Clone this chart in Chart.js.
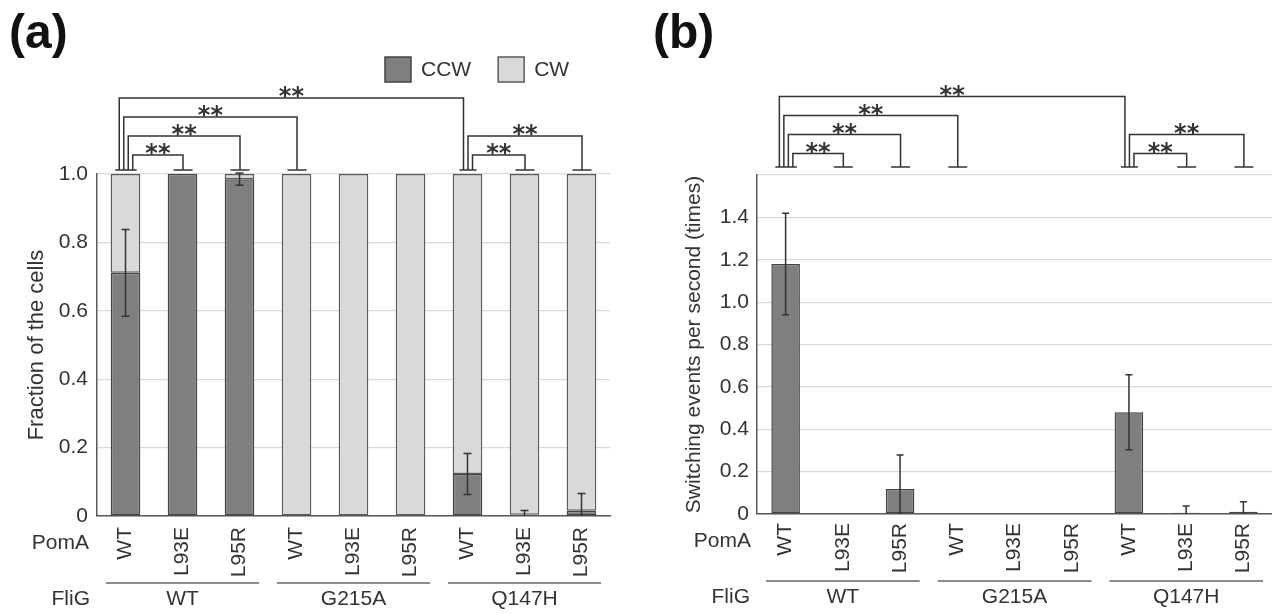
<!DOCTYPE html>
<html>
<head>
<meta charset="utf-8">
<script src="https://cdn.jsdelivr.net/npm/chart.js@4.4.1/dist/chart.umd.min.js"></script>
<style>
html, body { margin: 0; padding: 0; background: #fff; }
#wrap { position: relative; width: 1272px; height: 614px; overflow: hidden; }
.panel { position: absolute; top: 0; }
.tag { position: absolute; font: bold 48px 'Liberation Sans', Arial, sans-serif; line-height: 48px; color: #111; }
</style>
</head>
<body>
<div id="wrap">
	<canvas id="chartA" class="panel" width="636" height="614" style="left:0"></canvas>
	<canvas id="chartB" class="panel" width="632" height="614" style="left:640px"></canvas>
	<div class="tag" style="left:9px;top:8px">(a)</div>
	<div class="tag" style="left:653px;top:8px">(b)</div>
</div>
<script>
//Dati.
const pomaLabels = ["WT", "L93E", "L95R", "WT", "L93E", "L95R", "WT", "L93E", "L95R"];
const fligGroups = ["WT", "G215A", "Q147H"];

const ccwFraction = [0.711, 1.0, 0.985, 0, 0, 0, 0.123, 0.004, 0.015];
const cwFraction  = [0.289, 0, 0.015, 1, 1, 1, 0.877, 0.996, 0.985];
const ccwSd       = [0.127, 0, 0.018, 0, 0, 0, 0.06, 0.012, 0.051];

const switchRate  = [1.18, 0, 0.118, 0, 0, 0, 0.48, 0.006, 0.011];
const switchSd    = [0.24, 0, 0.16, 0, 0, 0, 0.177, 0.032, 0.047];

//Confronti significativi (indici delle barre).
const sigPairs = [[0, 1], [0, 2], [0, 3], [0, 6], [6, 7], [6, 8]];
const sigMark = "**";

const INK = "#333";
const DARK = "#7f7f7f";
const LIGHT = "#d9d9d9";

Chart.defaults.font.family = "'Liberation Sans', Arial, sans-serif";
Chart.defaults.color = INK;

//Plugin: barre d'errore, parentesi di significativita', etichette FliG/PomA, legenda.
const figureDecor = {
	id: "figureDecor",

	afterDatasetsDraw(chart, args, o){
		const ctx = chart.ctx;
		const y = chart.scales.y;
		ctx.save();
		ctx.strokeStyle = INK;
		ctx.lineWidth = 1.5;
		chart.data.datasets.forEach((ds, d) => {
			if(!ds.errors) return;
			const meta = chart.getDatasetMeta(d);
			ds.errors.forEach((e, i) => {
				if(!e) return;
				const v = ds.data[i];
				const x = meta.data[i].x;
				const yt = y.getPixelForValue(v + e);
				const yb = y.getPixelForValue(Math.max(0, v - e));
				ctx.beginPath();
				ctx.moveTo(x, yt); ctx.lineTo(x, yb);
				ctx.moveTo(x - o.errCap, yt); ctx.lineTo(x + o.errCap, yt);
				if(v - e > 0){ ctx.moveTo(x - o.errCap, yb); ctx.lineTo(x + o.errCap, yb); }
				ctx.stroke();
			});
		});
		ctx.restore();
	},

	afterDraw(chart, args, o){
		const ctx = chart.ctx;
		const xs = chart.scales.x;
		const area = chart.chartArea;
		const half = (xs.getPixelForValue(1) - xs.getPixelForValue(0)) / 2;

		ctx.save();
		ctx.strokeStyle = INK;
		ctx.fillStyle = INK;
		ctx.lineWidth = 1.5;

		//Parentesi.
		const capY = area.top - o.capGap;
		const level = sigPairs.map(p => sigPairs.filter(q => q[0] == p[0] && q[1] < p[1]).length);
		const legs = {};
		pomaLabels.forEach((l, i) => {
			const list = [];
			sigPairs.map((p, k) => k).filter(k => sigPairs[k][0] == i)
				.sort((a, b) => level[a] - level[b]).forEach(k => list.push("s" + k));
			sigPairs.forEach((p, k) => { if(p[1] == i) list.push("e" + k); });
			if(list.length) legs[i] = list;
		});
		const legX = (bar, key) => {
			const list = legs[bar];
			const pos = list.indexOf(key);
			return xs.getPixelForValue(bar) + 0.5 + ((list.length - 1) / 2 - pos) * 4.5;
		};

		ctx.font = "bold 24px 'DejaVu Sans'";
		ctx.textAlign = "center";
		ctx.textBaseline = "alphabetic";
		sigPairs.forEach((p, k) => {
			const xl = legX(p[0], "s" + k);
			const xr = legX(p[1], "e" + k);
			const yl = capY - o.firstGap - level[k] * o.step;
			ctx.beginPath();
			ctx.moveTo(xl, capY); ctx.lineTo(xl, yl); ctx.lineTo(xr, yl); ctx.lineTo(xr, capY);
			ctx.stroke();
			ctx.fillText(sigMark, (xl + xr) / 2, yl + 6);
		});
		Object.keys(legs).forEach(bar => {
			const xsLeg = legs[bar].map(key => legX(+bar, key));
			const lo = Math.min(...xsLeg), hi = Math.max(...xsLeg);
			ctx.beginPath();
			if(xsLeg.length == 1){ ctx.moveTo(lo - 9.5, capY); ctx.lineTo(lo + 9.5, capY); }
			else { ctx.moveTo(lo - 4, capY); ctx.lineTo(hi + 4, capY); }
			ctx.stroke();
		});

		//PomA / FliG.
		ctx.font = "21px 'Liberation Sans'";
		ctx.textBaseline = "middle";
		ctx.textAlign = "right";
		ctx.fillText("PomA", area.left - o.pomaX, area.bottom + o.pomaY);
		ctx.fillText("FliG", area.left - 7, area.bottom + 83);

		ctx.textAlign = "center";
		ctx.strokeStyle = "#666";
		fligGroups.forEach((g, k) => {
			const x0 = xs.getPixelForValue(3 * k) - half + 9;
			const x1 = xs.getPixelForValue(3 * k + 2) + half - 9;
			ctx.beginPath();
			ctx.moveTo(x0, area.bottom + 67); ctx.lineTo(x1, area.bottom + 67);
			ctx.stroke();
			ctx.fillText(g, (x0 + x1) / 2, area.bottom + 83);
		});

		//Legenda.
		if(o.legend){
			let lx = 385;
			ctx.textAlign = "left";
			ctx.lineWidth = 1.5;
			chart.data.datasets.forEach(ds => {
				ctx.fillStyle = ds.backgroundColor;
				ctx.strokeStyle = ds.borderColor;
				ctx.fillRect(lx, 57, 26, 25);
				ctx.strokeRect(lx, 57, 26, 25);
				ctx.fillStyle = INK;
				ctx.fillText(ds.label, lx + 36, 70);
				lx += 36 + ctx.measureText(ds.label).width + 27;
			});
		}
		ctx.restore();
	}
};

function tickFmt(v){
	if(v > 1.5) return "";
	return v === 0 ? "0" : v.toFixed(1);
}

function xScale(height, pad, stacked){
	return {
		stacked: stacked,
		grid: { display: false },
		border: { color: "#595959", width: 1.5 },
		ticks: { minRotation: 90, maxRotation: 90, autoSkip: false, padding: pad, font: { size: 21 }, color: INK },
		afterFit: s => { s.height = height; }
	};
}

function yScale(max, title, titleSize, width, pad, stacked){
	return {
		stacked: stacked,
		min: 0,
		max: max,
		ticks: { stepSize: 0.2, padding: pad, font: { size: 21 }, color: INK, callback: tickFmt },
		grid: { color: "#d9d9d9", lineWidth: 1.2, drawTicks: false },
		border: { color: "#595959", width: 1.5 },
		title: { display: true, text: title, font: { size: titleSize }, color: INK, padding: { top: 4, bottom: 4 } },
		afterFit: s => { s.width = width; }
	};
}

//Pannello (a).
new Chart(document.getElementById("chartA"), {
	type: "bar",
	data: {
		labels: pomaLabels,
		datasets: [
			{ label: "CCW", data: ccwFraction, errors: ccwSd, backgroundColor: DARK, borderColor: "#444", borderWidth: 1.5, borderSkipped: false },
			{ label: "CW", data: cwFraction, backgroundColor: LIGHT, borderColor: "#5a5a5a", borderWidth: 1.5, borderSkipped: false }
		]
	},
	options: {
		responsive: false,
		animation: false,
		events: [],
		layout: { padding: { left: 20, top: 174, right: 26, bottom: 0 } },
		datasets: { bar: { barPercentage: 0.52, categoryPercentage: 1 } },
		scales: {
			x: xScale(98, 3, true),
			y: yScale(1, "Fraction of the cells", 22, 77, 9, true)
		},
		plugins: {
			legend: { display: false },
			tooltip: { enabled: false },
			figureDecor: { errCap: 4, capGap: 4, firstGap: 15, step: 19, pomaX: 8, pomaY: 27, legend: true }
		}
	},
	plugins: [figureDecor]
});

//Pannello (b).
new Chart(document.getElementById("chartB"), {
	type: "bar",
	data: {
		labels: pomaLabels,
		datasets: [
			{ label: "Switching", data: switchRate, errors: switchSd, backgroundColor: DARK, borderColor: "#444", borderWidth: 1.5, borderSkipped: false }
		]
	},
	options: {
		responsive: false,
		animation: false,
		events: [],
		layout: { padding: { left: 38, top: 175, right: 0, bottom: 0 } },
		datasets: { bar: { barPercentage: 0.5, categoryPercentage: 1 } },
		scales: {
			x: xScale(100, 1, false),
			y: yScale(1.6, "Switching events per second (times)", 21, 79, 8, false)
		},
		plugins: {
			legend: { display: false },
			tooltip: { enabled: false },
			figureDecor: { errCap: 3.5, capGap: 8, firstGap: 13.5, step: 19, pomaX: 6, pomaY: 27, legend: false }
		}
	},
	plugins: [figureDecor]
});
</script>
</body>
</html>
